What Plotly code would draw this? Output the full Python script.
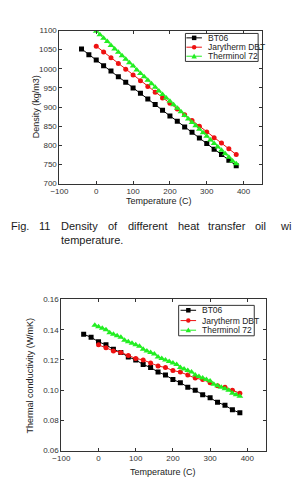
import plotly.graph_objects as go

# ---------------- data ----------------
bt06_t = [-40, -20, 0, 20, 40, 60, 80, 100, 120, 140, 160, 180, 200, 220, 240, 260, 280, 300, 320, 340, 360, 380]
bt06_rho = [1052, 1037, 1023, 1008, 994, 979, 965, 950, 936, 921, 907, 892, 877, 863, 848, 834, 819, 805, 790, 776, 761, 747]
bt06_k = [0.137, 0.135, 0.132, 0.130, 0.127, 0.125, 0.122, 0.120, 0.117, 0.115, 0.112, 0.110, 0.107, 0.105,
          0.102, 0.100, 0.097, 0.095, 0.092, 0.090, 0.087, 0.085]

dbt_t = [0, 20, 40, 60, 80, 100, 120, 140, 160, 180, 200, 220, 240, 260, 280, 300, 320, 340, 360, 380]
dbt_rho = [1059, 1044, 1029, 1014, 999, 984, 969, 954, 939, 924, 910, 895, 880, 865, 850, 835, 820, 806, 791, 776]
dbt_k = [0.130, 0.128, 0.126, 0.125, 0.123, 0.121, 0.120, 0.118, 0.116, 0.115, 0.113, 0.112, 0.110, 0.108,
         0.107, 0.105, 0.103, 0.102, 0.100, 0.098]

t72_t_rho = [0, 10, 20, 30, 40, 50, 60, 70, 80, 90, 100, 110, 120, 130, 140, 150, 160, 170, 180, 190, 200,
             210, 220, 230, 240, 250, 260, 270, 280, 290, 300, 310, 320, 330, 340, 350, 360, 370, 380]
t72_rho = [1098, 1089, 1080, 1071, 1061, 1052, 1043, 1034, 1025, 1016, 1007, 997, 988, 979, 970, 961, 952, 942,
           933, 924, 915, 906, 897, 888, 878, 869, 860, 851, 842, 833, 824, 814, 805, 796, 787, 778, 769, 759, 752]
t72_t_k = [-10, 0, 10, 20, 30, 40, 50, 60, 70, 80, 90, 100, 110, 120, 130, 140, 150, 160, 170, 180, 190, 200,
           210, 220, 230, 240, 250, 260, 270, 280, 290, 300, 310, 320, 330, 340, 350, 360, 370, 380]
t72_k = [0.143, 0.142, 0.141, 0.140, 0.138, 0.137, 0.136, 0.135, 0.133, 0.132, 0.131, 0.130, 0.129, 0.127,
         0.126, 0.125, 0.124, 0.122, 0.121, 0.120, 0.119, 0.118, 0.117, 0.115, 0.114, 0.113, 0.112, 0.110,
         0.109, 0.108, 0.107, 0.106, 0.104, 0.103, 0.102, 0.101, 0.100, 0.098, 0.097, 0.096]

series_names = ["BT06", "Jarytherm DBT", "Therminol 72"]
x_ticks = [-100, 0, 100, 200, 300, 400]
rho_ticks = [700, 750, 800, 850, 900, 950, 1000, 1050, 1100]
k_ticks = [0.06, 0.08, 0.10, 0.12, 0.14, 0.16]

# ---------------- styling ----------------
W, H = 294, 491
BLACK, RED, GREEN = "#000000", "#ee1111", "#22ee22"
FONT = "Liberation Sans, Arial, sans-serif"
TICKC = "#333333"

def px_x(p):
    return p / W

def px_y(p):
    return 1 - p / H

styles = [
    dict(color=BLACK, symbol="square", size=5),
    dict(color=RED, symbol="circle", size=5),
    dict(color=GREEN, symbol="triangle-up", size=6),
]

fig = go.Figure()

def add(x, y, i, xa, ya):
    s = styles[i]
    fig.add_trace(go.Scatter(
        x=x, y=y, mode="lines+markers", name=series_names[i], showlegend=False,
        line=dict(color=s["color"], width=1),
        marker=dict(color=s["color"], symbol=s["symbol"], size=s["size"], line=dict(width=0)),
        xaxis=xa, yaxis=ya,
    ))

add(bt06_t, bt06_rho, 0, "x", "y")
add(dbt_t, dbt_rho, 1, "x", "y")
add(t72_t_rho, t72_rho, 2, "x", "y")
add(bt06_t, bt06_k, 0, "x2", "y2")
add(dbt_t, dbt_k, 1, "x2", "y2")
add(t72_t_k, t72_k, 2, "x2", "y2")

axis_common = dict(
    showline=True, linecolor="#333333", linewidth=1, mirror="allticks",
    ticks="inside", ticklen=3, tickcolor="#333333", tickwidth=1,
    showgrid=False, zeroline=False,
    tickfont=dict(family=FONT, size=8, color=TICKC),
    minor=dict(ticks="inside", ticklen=2, tickcolor="#333333", nticks=2),
)

fig.update_layout(
    width=W, height=H, margin=dict(l=0, r=0, t=0, b=0),
    paper_bgcolor="white", plot_bgcolor="white", showlegend=False,
    xaxis=dict(axis_common, domain=[px_x(52), px_x(261)], range=[-100, 450],
               tickvals=x_ticks, anchor="y"),
    yaxis=dict(axis_common, domain=[px_y(183), px_y(27)], range=[700, 1100],
               tickvals=rho_ticks, anchor="x"),
    xaxis2=dict(axis_common, domain=[px_x(54), px_x(265)], range=[-100, 450],
                tickvals=x_ticks, anchor="y2"),
    yaxis2=dict(axis_common, domain=[px_y(455), px_y(301)], range=[0.06, 0.16],
                tickvals=k_ticks, tickformat=".2f", anchor="x2"),
)

annotations = []
shapes = []

def text(x, y, s, size=9, angle=0, xanchor="center", color="#222222"):
    annotations.append(dict(
        x=px_x(x), y=px_y(y), xref="paper", yref="paper", text=s, showarrow=False,
        xanchor=xanchor, yanchor="middle", textangle=angle,
        font=dict(family=FONT, size=size, color=color),
    ))

# axis titles
text(155, 201, "Temperature (C)")
text(28, 105, "Density (kg/m3)", angle=-90)
text(159, 477, "Temperature (C)")
text(22, 378, "Thermal conductivity (W/mK)", angle=-90)

# caption (justified words; the reference is cropped after "wi")
cap_words = [("Fig.", 0), ("11", 29), ("Density", 52), ("of", 100), ("different", 121),
             ("heat", 172), ("transfer", 203), ("oil", 252), ("wi", 277)]
for w, x in cap_words:
    text(x, 226, w, size=11, xanchor="left", color="#1a1a1a")
text(52, 240, "temperature.", size=11, xanchor="left", color="#1a1a1a")

# custom legends
def legend(box, rows, line_x, text_x):
    x0, y0, x1, y1 = box
    shapes.append(dict(type="rect", xref="paper", yref="paper",
                       x0=px_x(x0), x1=px_x(x1), y0=px_y(y1), y1=px_y(y0),
                       line=dict(color="#333333", width=1), fillcolor="white"))
    for i, ry in enumerate(rows):
        c = styles[i]["color"]
        shapes.append(dict(type="line", xref="paper", yref="paper",
                           x0=px_x(line_x[0]), x1=px_x(line_x[1]), y0=px_y(ry), y1=px_y(ry),
                           line=dict(color=c, width=1)))
        mx = (line_x[0] + line_x[1]) / 2
        r = 2.3
        if i == 0:
            shapes.append(dict(type="rect", xref="paper", yref="paper",
                               x0=px_x(mx - r), x1=px_x(mx + r), y0=px_y(ry + r), y1=px_y(ry - r),
                               line=dict(width=0), fillcolor=c))
        elif i == 1:
            shapes.append(dict(type="circle", xref="paper", yref="paper",
                               x0=px_x(mx - r), x1=px_x(mx + r), y0=px_y(ry + r), y1=px_y(ry - r),
                               line=dict(width=0), fillcolor=c))
        else:
            path = "M {} {} L {} {} L {} {} Z".format(
                px_x(mx - 2.8), px_y(ry + 2.2), px_x(mx + 2.8), px_y(ry + 2.2), px_x(mx), px_y(ry - 2.8))
            shapes.append(dict(type="path", xref="paper", yref="paper", path=path,
                               line=dict(width=0), fillcolor=c))
        text(text_x, ry, series_names[i], size=8.5, xanchor="left", color="#222222")

legend((182, 30, 257, 58.5), [34.5, 44, 53.2], (183, 199), 203)
legend((175, 307, 253, 338), [312, 322.5, 332.3], (177, 193), 197)

fig.update_layout(annotations=annotations, shapes=shapes)
fig.write_html("out.html")
